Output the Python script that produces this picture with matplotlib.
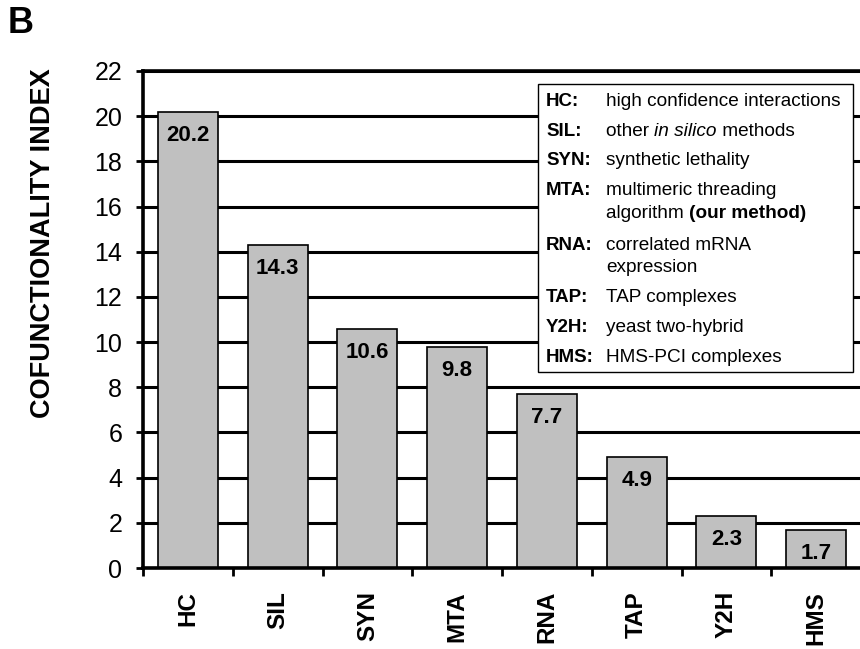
import matplotlib
matplotlib.use("Agg")
import matplotlib.pyplot as plt
from matplotlib.patches import Rectangle
import numpy as np

plt.rcParams['font.family'] = ['Liberation Sans', 'DejaVu Sans']

# ---- data ----
categories = ["HC", "SIL", "SYN", "MTA", "RNA", "TAP", "Y2H", "HMS"]
values = [20.2, 14.3, 10.6, 9.8, 7.7, 4.9, 2.3, 1.7]
y_ticks = [0, 2, 4, 6, 8, 10, 12, 14, 16, 18, 20, 22]
y_label = "COFUNCTIONALITY INDEX"
panel_label = "B"

legend_abbr = ["HC:", "SIL:", "SYN:", "MTA:", "RNA:", "TAP:", "Y2H:", "HMS:"]
# each entry: list of lines, each line a list of (text, style)
legend_desc = [
    [[("high confidence interactions", "normal")]],
    [[("other ", "normal"), ("in silico", "italic"), (" methods", "normal")]],
    [[("synthetic lethality", "normal")]],
    [[("multimeric threading", "normal")],
     [("algorithm ", "normal"), ("(our method)", "bold")]],
    [[("correlated mRNA", "normal")], [("expression", "normal")]],
    [[("TAP complexes", "normal")]],
    [[("yeast two-hybrid", "normal")]],
    [[("HMS-PCI complexes", "normal")]],
]

W, H = 860, 649
fig = plt.figure(figsize=(W / 100, H / 100), dpi=100)

def fx(px):
    return px / W

def fy(py):
    return 1 - py / H

# axes: left spine at x=143, y=0 at 568, y=22 at 71, right edge ~861
ax = fig.add_axes([fx(143), fy(568), fx(861) - fx(143), fy(71) - fy(568)])

x = np.arange(len(categories))
ax.bar(x, values, width=0.667, color="#c0c0c0", edgecolor="black",
       linewidth=1.2, zorder=2)

ax.set_xlim(-0.5, len(categories) - 0.5)
ax.set_ylim(0, 22)
ax.set_yticks(y_ticks)
ax.set_yticklabels([str(t) for t in y_ticks], fontsize=18)
ax.tick_params(axis='y', direction='out', length=5, width=2, pad=10)

ax.set_xticks(x)
ax.set_xticklabels(categories, rotation=90, fontsize=17.5, fontweight='bold')
ax.tick_params(axis='x', which='major', length=0, pad=16.5)
ax.set_xticks(np.arange(-0.5, len(categories) - 0.5, 1.0), minor=True)
ax.tick_params(axis='x', which='minor', direction='out', length=6, width=2)

ax.set_axisbelow(True)
ax.yaxis.grid(True, color="black", linewidth=2.2, zorder=0)
ax.xaxis.grid(False)

for side in ["left", "bottom", "top"]:
    ax.spines[side].set_linewidth(2.6)
ax.spines["right"].set_visible(False)

for xi, v in zip(x, values):
    ax.annotate(f"{v}", (xi, v), xytext=(0, -21), textcoords="offset points",
                ha="center", va="baseline", fontsize=16, fontweight="bold",
                zorder=3)

# y label and panel letter
fig.text(fx(43), fy(243), y_label, rotation=90, fontsize=19.5,
         fontweight="bold", ha="center", va="center")
fig.text(fx(8), fy(33), panel_label, fontsize=26, fontweight="bold",
         ha="left", va="baseline")

# legend box
box = Rectangle((fx(538), fy(372)), fx(853) - fx(538), fy(84) - fy(372),
                transform=fig.transFigure, facecolor="white",
                edgecolor="black", linewidth=1.0, zorder=4)
fig.patches.append(box)

baselines = [[106], [135.5], [165], [195, 217.5], [250, 271.5], [302], [332], [362]]
abbr_x = 546
desc_x = 606

fig.canvas.draw()
renderer = fig.canvas.get_renderer()

for abbr, desc, bls in zip(legend_abbr, legend_desc, baselines):
    fig.text(fx(abbr_x), fy(bls[0]), abbr, fontsize=13.5, fontweight="bold",
             ha="left", va="baseline", zorder=5)
    for line, bl in zip(desc, bls):
        cx = desc_x
        for txt, style in line:
            kw = dict(fontsize=13.7, ha="left", va="baseline", zorder=5)
            if style == "italic":
                kw["fontstyle"] = "italic"
            elif style == "bold":
                kw["fontweight"] = "bold"
            t = fig.text(fx(cx), fy(bl), txt, **kw)
            ext = t.get_window_extent(renderer=renderer)
            cx += ext.width

fig.savefig("out.png", dpi=100)
